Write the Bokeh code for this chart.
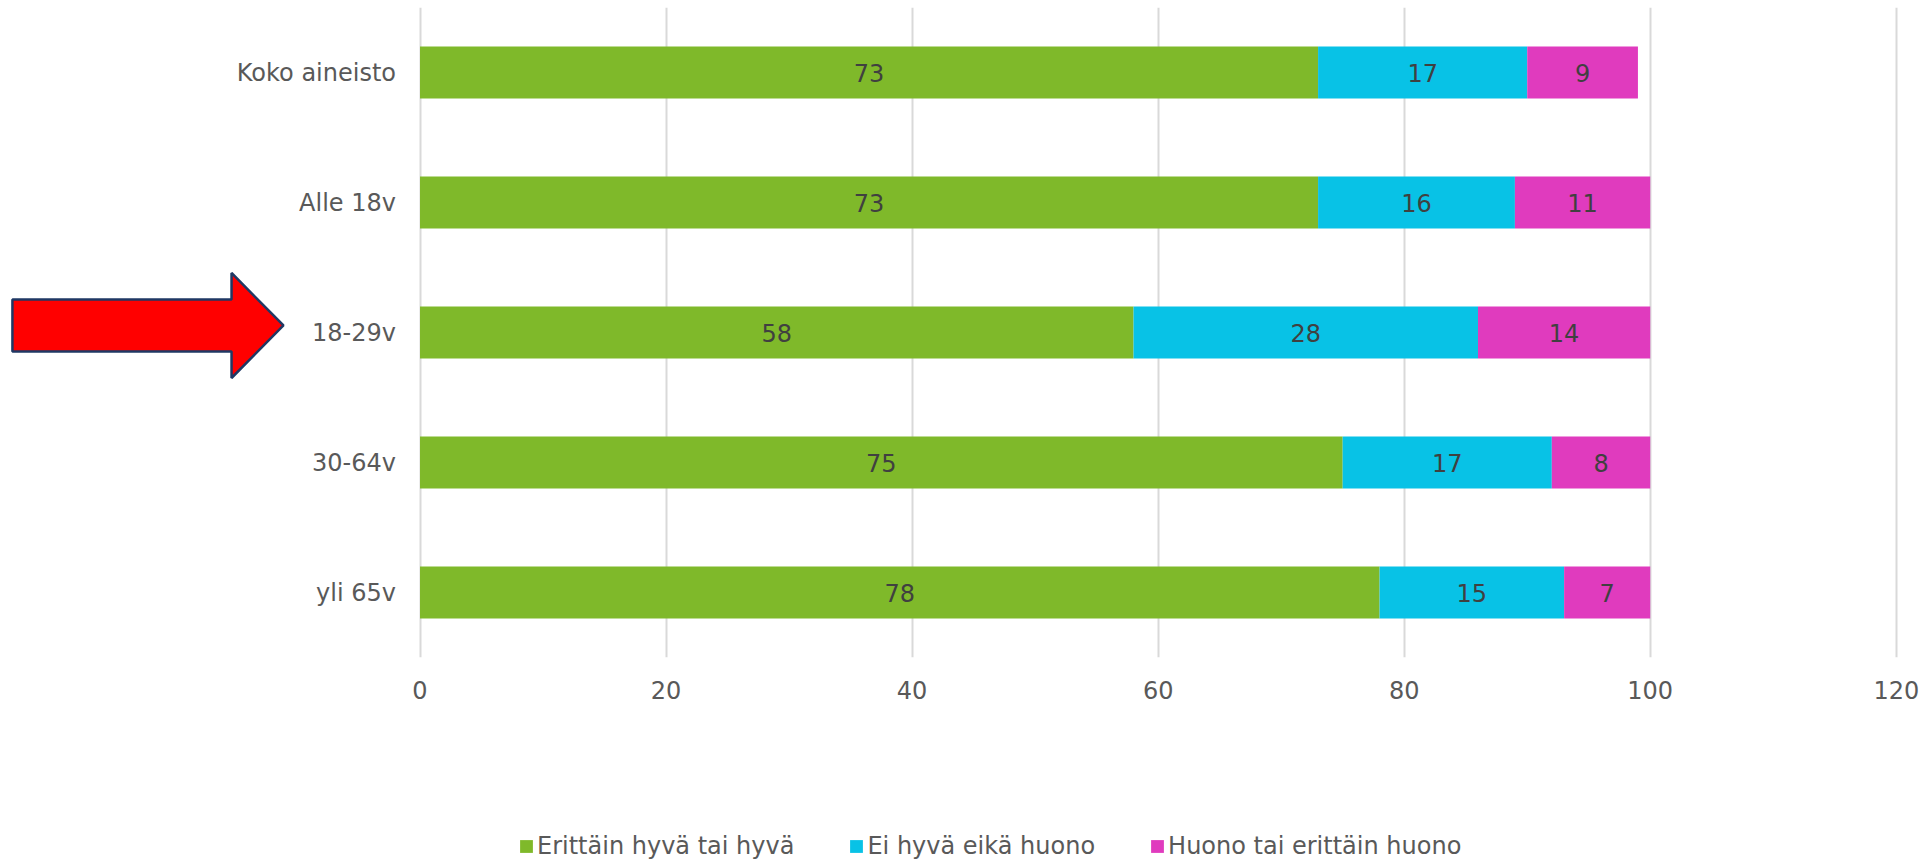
from bokeh.plotting import figure
from bokeh.layouts import column
from bokeh.models import (FixedTicker, Legend, LegendItem, ColumnDataSource,
                          FactorRange, Range1d)
from bokeh.core.properties import value
from bokeh.embed import file_html
from bokeh.resources import INLINE

# ---------------- data ----------------
categories = ["Koko aineisto", "Alle 18v", "18-29v", "30-64v", "yli 65v"]
series_names = ["Erittäin hyvä tai hyvä", "Ei hyvä eikä huono", "Huono tai erittäin huono"]
good = [73, 73, 58, 75, 78]
neutral = [17, 16, 28, 17, 15]
bad = [9, 11, 14, 8, 7]
x_ticks = [0, 20, 40, 60, 80, 100, 120]
highlight = "18-29v"

colors = ["#7FB92A", "#08C2E6", "#E03BBE"]
FONT = "DejaVu Sans"
FS = "24px"
AXIS_TXT = "#595959"
LBL_TXT = "#404040"

keys = ["good", "neutral", "bad"]
source = ColumnDataSource(dict(cat=categories, good=good, neutral=neutral, bad=bad))

factors = list(reversed(categories))

W = 1929
H_MAIN, H_LEG = 720, 141
x_start, x_end = -34.10, 122.70

p = figure(width=W, height=H_MAIN, output_backend="svg", toolbar_location=None,
           y_range=FactorRange(factors=factors), x_range=Range1d(x_start, x_end),
           y_axis_location=None, x_axis_location="below",
           min_border_top=7, min_border_bottom=63, min_border_left=0, min_border_right=0)
p.outline_line_color = None
p.background_fill_color = "white"
p.border_fill_color = "white"

renderers = p.hbar_stack(keys, y="cat", height=0.4, source=source,
                         fill_color=colors, line_color=None)

# x axis
xa = p.xaxis[0]
xa.ticker = FixedTicker(ticks=x_ticks)
xa.axis_line_color = None
xa.major_tick_line_color = None
xa.minor_tick_line_color = None
xa.major_tick_out = 0
xa.major_label_standoff = 23
xa.major_label_text_font = FONT
xa.major_label_text_font_size = FS
xa.major_label_text_color = AXIS_TXT

p.xgrid.grid_line_color = "#D9D9D9"
p.xgrid.grid_line_width = 2
p.ygrid.visible = False

# category labels to the left of x=0
p.text(x=[0] * len(categories), y=categories, text=categories,
       x_offset=-24, text_align="right", text_baseline="middle",
       text_font=value(FONT), text_font_size=value(FS), text_color=AXIS_TXT)

# segment value labels
lx, ly, lt = [], [], []
for i, c in enumerate(categories):
    start = 0
    for arr in (good, neutral, bad):
        v = arr[i]
        lx.append(start + v / 2)
        ly.append(c)
        lt.append(str(v))
        start += v
p.text(x=lx, y=ly, text=lt, text_align="center", text_baseline="middle",
       text_font=value(FONT), text_font_size=value(FS), text_color=LBL_TXT)

# highlight arrow pointing at the 18-29v row
yc = factors.index(highlight) + 0.5 + 0.054
shaft, head = 0.20, 0.404
xl, xb, xt = -33.13, -15.32, -11.10
p.patch(x=[xl, xb, xb, xt, xb, xb, xl],
        y=[yc + shaft, yc + shaft, yc + head, yc, yc - head, yc - shaft, yc - shaft],
        fill_color="#FF0000", line_color="#1F3864", line_width=2.5)

# ---------------- legend strip ----------------
lf = figure(width=W, height=H_LEG, output_backend="svg", toolbar_location=None,
            y_range=FactorRange(factors=factors), x_range=Range1d(x_start, x_end),
            x_axis_location=None, y_axis_location=None,
            min_border_top=0, min_border_bottom=0, min_border_left=0, min_border_right=0)
lf.outline_line_color = None
lf.xgrid.visible = False
lf.ygrid.visible = False
leg_renderers = lf.hbar_stack(keys, y="cat", height=0.4, source=source,
                              fill_color=colors, line_color=None)
for r in leg_renderers:
    r.visible = False

legend = Legend(items=[LegendItem(label=n, renderers=[r]) for n, r in zip(series_names, leg_renderers)],
                orientation="horizontal", location=(518, 1), click_policy="none",
                glyph_width=16, glyph_height=16, label_standoff=3, spacing=54,
                padding=0, margin=0, border_line_color=None, background_fill_alpha=0,
                label_text_font=FONT, label_text_font_size=FS, label_text_color=AXIS_TXT)
lf.add_layout(legend, "center")

layout = column(p, lf, spacing=0)
open("out.html", "w").write(file_html(layout, INLINE))
